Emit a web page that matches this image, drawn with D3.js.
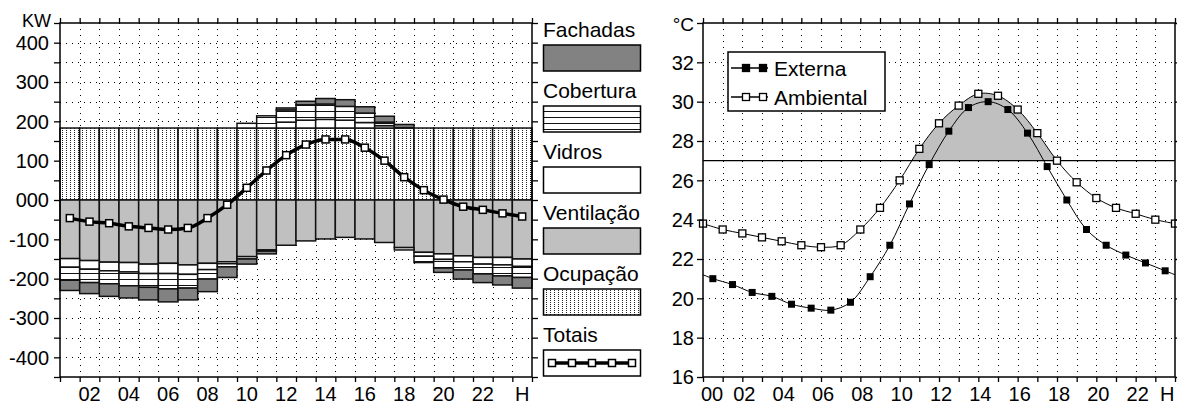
<!DOCTYPE html>
<html>
<head>
<meta charset="utf-8">
<script src="https://cdn.jsdelivr.net/npm/d3@7"></script>
<style>
  body { margin: 0; background: #fff; }
  svg text { font-family: "Liberation Sans", Arial, sans-serif; fill: #000; }
</style>
</head>
<body>
<svg id="chart" width="1177" height="407"></svg>
<script>
// ---- left chart: thermal loads per hour (bar h spans h-1..h)
const hours = [1, 2, 3, 4, 5, 6, 7, 8, 9, 10, 11, 12, 13, 14, 15, 16, 17, 18, 19, 20, 21, 22, 23, 24];
const ocupacao = [183, 183, 183, 183, 183, 183, 183, 183, 183, 183, 183, 183, 183, 183, 183, 183, 183, 183, 183, 183, 183, 183, 183, 183];
const ventilacao = [-149, -154, -158, -159, -163, -161, -165, -161, -157, -144, -127, -115, -104, -99, -95, -99, -108, -121, -133, -137, -142, -146, -146, -150];
const vidros = [-22, -22, -22, -24, -24, -26, -24, -16, -5, -6, -3, 15, 20, 22, 20, 14, 6, -6, -10, -14, -15, -17, -19, -19];
const cobertura = [-33, -34, -33, -35, -35, -39, -35, -24, -8, 12, 31, 31, 39, 39, 35, 24, 9, 1, -16, -22, -21, -25, -28, -28];
const fachadas = [-26, -28, -32, -31, -32, -33, -30, -32, -27, -13, -7, 5, 9, 14, 17, 16, 15, 8, 0, -11, -23, -22, -23, -27];
const totais = [-46, -55, -59, -67, -71, -75, -71, -46, -12, 31, 75, 114, 141, 154, 154, 133, 100, 58, 25, 1, -17, -25, -34, -42];
const loadTicks = [-400, -300, -200, -100, 0, 100, 200, 300, 400];
const loadLabels = ['-400', '-300', '-200', '-100', '000', '100', '200', '300', '400'];
const leftHourTicks = [2, 4, 6, 8, 10, 12, 14, 16, 18, 20, 22, 24];
const leftHourLabels = ['02', '04', '06', '08', '10', '12', '14', '16', '18', '20', '22', 'H'];
const legendNames = ['Fachadas', 'Cobertura', 'Vidros', 'Ventilação', 'Ocupação', 'Totais'];

// ---- right chart: temperatures
const ambientalHours = [0, 1, 2, 3, 4, 5, 6, 7, 8, 9, 10, 11, 12, 13, 14, 15, 16, 17, 18, 19, 20, 21, 22, 23, 24];
const ambiental = [23.8, 23.5, 23.3, 23.1, 22.9, 22.7, 22.6, 22.7, 23.5, 24.6, 26.0, 27.6, 28.9, 29.8, 30.4, 30.3, 29.6, 28.4, 27.0, 25.9, 25.1, 24.6, 24.3, 24.0, 23.8];
const externaHours = [0, 0.5, 1.5, 2.5, 3.5, 4.5, 5.5, 6.5, 7.5, 8.5, 9.5, 10.5, 11.5, 12.5, 13.5, 14.5, 15.5, 16.5, 17.5, 18.5, 19.5, 20.5, 21.5, 22.5, 23.5, 24];
const externa = [21.2, 21.0, 20.7, 20.3, 20.1, 19.7, 19.5, 19.4, 19.8, 21.1, 22.7, 24.8, 26.8, 28.5, 29.7, 30.0, 29.6, 28.4, 26.7, 25.0, 23.5, 22.7, 22.2, 21.8, 21.4, 21.2];
const limite = 27;
const tempTicks = [16, 18, 20, 22, 24, 26, 28, 30, 32];
const rightHourTicks = [0, 2, 4, 6, 8, 10, 12, 14, 16, 18, 20, 22];
const rightHourLabels = ['00', '02', '04', '06', '08', '10', '12', '14', '16', '18', '20', '22'];

const svg = d3.select('#chart');
const defs = svg.append('defs');

// patterns
const pOc = defs.append('pattern').attr('id', 'ocup')
  .attr('patternUnits', 'userSpaceOnUse').attr('width', 4).attr('height', 2);
pOc.append('rect').attr('width', 4).attr('height', 2).attr('fill', '#fff');
pOc.append('rect').attr('x', 2).attr('width', 1).attr('height', 1).attr('fill', '#222');

const pCob = defs.append('pattern').attr('id', 'cob')
  .attr('patternUnits', 'userSpaceOnUse').attr('width', 8).attr('height', 6);
pCob.append('rect').attr('width', 8).attr('height', 6).attr('fill', '#fff');
pCob.append('rect').attr('y', 3).attr('width', 8).attr('height', 1).attr('fill', '#111');

const fills = {
  fachadas: '#828282',
  cobertura: 'url(#cob)',
  vidros: '#fff',
  ventilacao: '#c0c0c0',
  ocupacao: 'url(#ocup)'
};

function dotGrid(g, xs, ys, x, y) {
  g.selectAll('.vg').data(xs).enter().append('line')
    .attr('x1', d => Math.round(x(d)) + 0.5).attr('x2', d => Math.round(x(d)) + 0.5)
    .attr('y1', y.range()[1]).attr('y2', y.range()[0]);
  g.selectAll('.hg').data(ys).enter().append('line')
    .attr('y1', d => Math.round(y(d)) + 0.5).attr('y2', d => Math.round(y(d)) + 0.5)
    .attr('x1', x.range()[0]).attr('x2', x.range()[1]);
  g.selectAll('line')
    .attr('stroke', '#000').attr('stroke-width', 1)
    .attr('stroke-dasharray', '1 5').attr('shape-rendering', 'crispEdges');
}

function frameTicks(g, x, y, xt, yt) {
  const [x0, x1] = x.range();
  const [y0, y1] = y.range();
  g.append('g').attr('transform', `translate(0,${y1})`)
    .call(d3.axisTop(x).tickValues(xt).tickSize(5).tickSizeOuter(0).tickFormat(''));
  g.append('g').attr('transform', `translate(0,${y0})`)
    .call(d3.axisBottom(x).tickValues(xt).tickSize(5).tickSizeOuter(0).tickFormat(''));
  g.append('g').attr('transform', `translate(${x0},0)`)
    .call(d3.axisLeft(y).tickValues(yt).tickSize(6).tickSizeOuter(0).tickFormat(''));
  g.append('g').attr('transform', `translate(${x1},0)`)
    .call(d3.axisRight(y).tickValues(yt).tickSize(6).tickSizeOuter(0).tickFormat(''));
  g.selectAll('.domain').remove();
  g.selectAll('.tick line').attr('stroke', '#000').attr('stroke-width', 1.3);
  g.append('rect').attr('x', x0).attr('y', y1).attr('width', x1 - x0).attr('height', y0 - y1)
    .attr('fill', 'none').attr('stroke', '#000').attr('stroke-width', 1.5);
}

// ================= LEFT CHART =================
const xL = d3.scaleLinear().domain([0, 24]).range([60, 532]);
const yL = d3.scaleLinear().domain([-450, 450]).range([377, 23]);

const gL = svg.append('g');
dotGrid(gL.append('g'), d3.range(1, 24), d3.range(-400, 401, 50), xL, yL);

const keys = ['ocupacao', 'ventilacao', 'vidros', 'cobertura', 'fachadas'];
const table = hours.map((h, i) => ({
  hour: h, ocupacao: ocupacao[i], ventilacao: ventilacao[i],
  vidros: vidros[i], cobertura: cobertura[i], fachadas: fachadas[i]
}));
const series = d3.stack().keys(keys).offset(d3.stackOffsetDiverging)(table);

series.forEach(s => {
  gL.append('g').selectAll('rect')
    .data(s.filter(d => d[0] !== d[1]))
    .enter().append('rect')
    .attr('x', d => xL(d.data.hour - 1))
    .attr('width', d => xL(d.data.hour) - xL(d.data.hour - 1))
    .attr('y', d => yL(Math.max(d[0], d[1])))
    .attr('height', d => Math.abs(yL(d[0]) - yL(d[1])))
    .attr('fill', fills[s.key])
    .attr('stroke', '#111')
    .attr('stroke-width', 1.5);
});

const totLine = d3.line()
  .x((d, i) => xL(hours[i] - 0.5))
  .y(d => yL(d))
  .curve(d3.curveMonotoneX);
gL.append('path').datum(totais).attr('d', totLine)
  .attr('fill', 'none').attr('stroke', '#000').attr('stroke-width', 3.5);
gL.selectAll('.tot').data(totais).enter().append('rect')
  .attr('x', (d, i) => xL(hours[i] - 0.5) - 3.5)
  .attr('y', d => yL(d) - 3.5)
  .attr('width', 7).attr('height', 7)
  .attr('fill', '#fff').attr('stroke', '#000').attr('stroke-width', 1.5);

frameTicks(gL, xL, yL, d3.range(0, 25), d3.range(-450, 451, 50));

gL.selectAll('.ylab').data(loadTicks).enter().append('text')
  .attr('x', 49).attr('y', d => yL(d)).attr('dy', '0.36em')
  .attr('text-anchor', 'end').style('font-size', '20px')
  .text((d, i) => loadLabels[i]);
gL.append('text').attr('x', 51).attr('y', 27).attr('text-anchor', 'end')
  .style('font-size', '18px').text('KW');
gL.selectAll('.xlab').data(leftHourTicks).enter().append('text')
  .attr('x', d => xL(d - 0.5)).attr('y', 401)
  .attr('text-anchor', 'middle').style('font-size', '20px')
  .text((d, i) => leftHourLabels[i]);

// legend (left)
const legFills = ['fachadas', 'cobertura', 'vidros', 'ventilacao', 'ocupacao'];
const leg = svg.append('g');
legendNames.forEach((name, i) => {
  const top = 45 + i * 61;
  leg.append('text').attr('x', 543).attr('y', top - 8)
    .style('font-size', '21px').text(name);
  leg.append('rect').attr('x', 543.5).attr('y', top).attr('width', 97).attr('height', 26)
    .attr('fill', i < 5 ? fills[legFills[i]] : '#fff')
    .attr('stroke', '#000').attr('stroke-width', 1.5);
  if (i === 5) {
    const yy = top + 13;
    leg.append('line').attr('x1', 549).attr('x2', 635).attr('y1', yy).attr('y2', yy)
      .attr('stroke', '#000').attr('stroke-width', 3.5);
    [552, 572, 592, 612, 632].forEach(px => {
      leg.append('rect').attr('x', px - 3.5).attr('y', yy - 3.5).attr('width', 7).attr('height', 7)
        .attr('fill', '#fff').attr('stroke', '#000').attr('stroke-width', 1.5);
    });
  }
});

// ================= RIGHT CHART =================
const xR = d3.scaleLinear().domain([0, 24]).range([703, 1175]);
const yR = d3.scaleLinear().domain([16, 34]).range([377, 23]);

const gR = svg.append('g');
dotGrid(gR.append('g'), d3.range(1, 24), d3.range(18, 33, 2), xR, yR);

const curve = d3.curveCatmullRom.alpha(0.5);
defs.append('clipPath').attr('id', 'above')
  .append('rect').attr('x', xR(0)).attr('y', yR(34))
  .attr('width', xR(24) - xR(0)).attr('height', yR(limite) - yR(34));
const area = d3.area()
  .x((d, i) => xR(ambientalHours[i]))
  .y0(yR(limite)).y1(d => yR(d)).curve(curve);
gR.append('path').datum(ambiental).attr('d', area)
  .attr('fill', '#c0c0c0').attr('clip-path', 'url(#above)');

gR.append('line').attr('x1', xR(0)).attr('x2', xR(24))
  .attr('y1', yR(limite)).attr('y2', yR(limite))
  .attr('stroke', '#000').attr('stroke-width', 1.3);

const ambLine = d3.line().x((d, i) => xR(ambientalHours[i])).y(d => yR(d)).curve(curve);
const extLine = d3.line().x((d, i) => xR(externaHours[i])).y(d => yR(d)).curve(curve);
gR.append('path').datum(ambiental).attr('d', ambLine)
  .attr('fill', 'none').attr('stroke', '#000').attr('stroke-width', 1);
gR.append('path').datum(externa).attr('d', extLine)
  .attr('fill', 'none').attr('stroke', '#000').attr('stroke-width', 1);

const extPts = externa.map((v, i) => ({ h: externaHours[i], v })).filter(d => d.h % 1 !== 0);
gR.selectAll('.ext').data(extPts).enter().append('rect')
  .attr('x', d => xR(d.h) - 3.5).attr('y', d => yR(d.v) - 3.5)
  .attr('width', 7).attr('height', 7).attr('fill', '#000');
gR.selectAll('.amb').data(ambiental).enter().append('rect')
  .attr('x', (d, i) => xR(ambientalHours[i]) - 3.5).attr('y', d => yR(d) - 3.5)
  .attr('width', 7).attr('height', 7)
  .attr('fill', '#fff').attr('stroke', '#000').attr('stroke-width', 1.3);

frameTicks(gR, xR, yR, d3.range(0, 25), tempTicks.concat([34]));

gR.selectAll('.ylab').data(tempTicks).enter().append('text')
  .attr('x', 694).attr('y', d => yR(d)).attr('dy', '0.36em')
  .attr('text-anchor', 'end').style('font-size', '20px').text(d => d);
gR.append('text').attr('x', 694).attr('y', 31).attr('text-anchor', 'end')
  .style('font-size', '19px').text('°C');
gR.selectAll('.xlab').data(rightHourTicks).enter().append('text')
  .attr('x', d => d === 0 ? xR(d) + 9 : xR(d) + 2).attr('y', 401)
  .attr('text-anchor', 'middle').style('font-size', '20px')
  .text((d, i) => rightHourLabels[i]);
gR.append('text').attr('x', xR(23.6)).attr('y', 401)
  .attr('text-anchor', 'middle').style('font-size', '20px').text('H');

// legend (right)
const lg = gR.append('g');
lg.append('rect').attr('x', 728).attr('y', 52).attr('width', 157).attr('height', 59)
  .attr('fill', '#fff').attr('stroke', '#000').attr('stroke-width', 1.5);
[['Externa', 68, true], ['Ambiental', 97, false]].forEach(([name, yy, filled]) => {
  lg.append('line').attr('x1', 731).attr('x2', 768).attr('y1', yy).attr('y2', yy)
    .attr('stroke', '#000').attr('stroke-width', 1.3);
  [746, 763].forEach(px => {
    lg.append('rect').attr('x', px - 3.5).attr('y', yy - 3.5).attr('width', 7).attr('height', 7)
      .attr('fill', filled ? '#000' : '#fff').attr('stroke', '#000').attr('stroke-width', 1.3);
  });
  lg.append('text').attr('x', 774).attr('y', yy).attr('dy', '0.36em')
    .style('font-size', '21px').text(name);
});
</script>
</body>
</html>
